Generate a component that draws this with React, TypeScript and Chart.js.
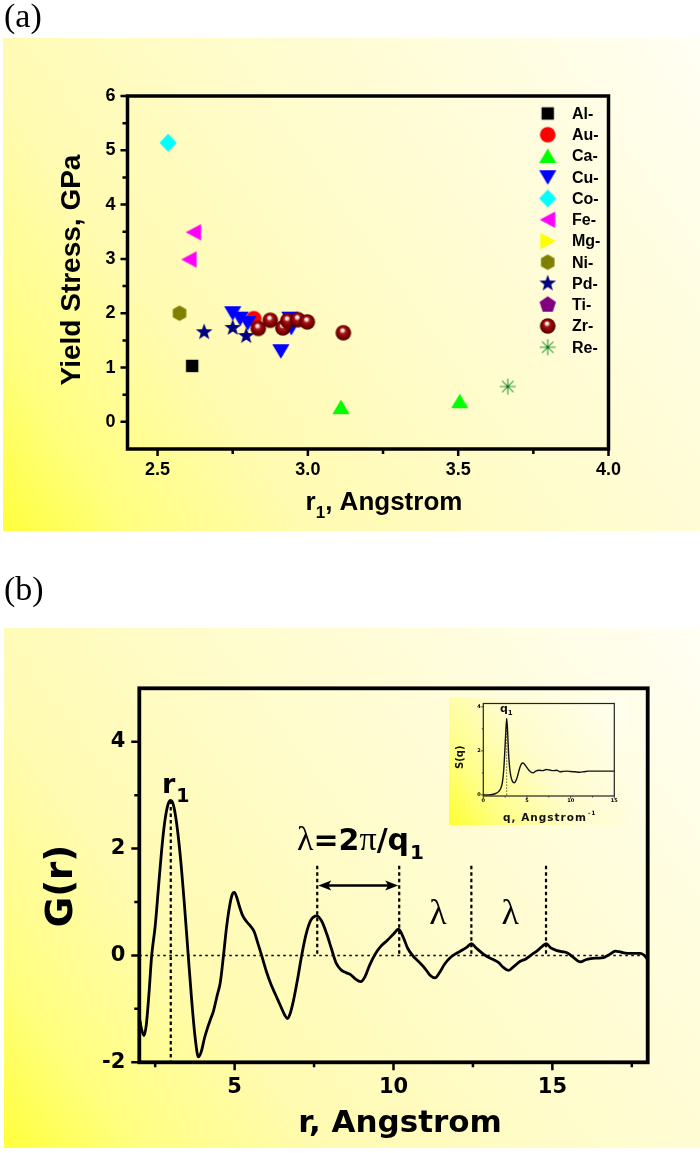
import React, { useEffect, useRef } from "react";
import { Chart, registerables } from "chart.js";

Chart.register(...registerables);

const SANS = '"Liberation Sans", Arial, Helvetica, sans-serif';
const DJ = '"DejaVu Sans", Verdana, sans-serif';
const SERIF = '"Liberation Serif", "Times New Roman", serif';

// ---------------- Panel (a): yield stress vs r1 ----------------
const seriesNames = ["Al-", "Au-", "Ca-", "Cu-", "Co-", "Fe-", "Mg-", "Ni-", "Pd-", "Ti-", "Zr-", "Re-"];
const alR = [2.615];
const alY = [1.03];
const auR = [2.82];
const auY = [1.9];
const caR = [3.11, 3.505];
const caY = [0.27, 0.38];
const cuR = [2.75, 2.775, 2.8, 2.91, 2.94, 2.945];
const cuY = [2.0, 1.9, 1.82, 1.3, 1.9, 1.73];
const coR = [2.535];
const coY = [5.14];
const feR = [2.62, 2.605];
const feY = [3.49, 2.99];
const mgR: number[] = [];
const mgY: number[] = [];
const niR = [2.573];
const niY = [2.0];
const pdR = [2.655, 2.75, 2.795];
const pdY = [1.65, 1.73, 1.58];
const tiR: number[] = [];
const tiY: number[] = [];
const zrR = [2.835, 2.875, 2.917, 2.933, 2.967, 2.998, 3.118];
const zrY = [1.72, 1.87, 1.73, 1.86, 1.88, 1.84, 1.64];
const reR = [3.665];
const reY = [0.65];
const xTicksA = [2.5, 3.0, 3.5, 4.0];
const xMinorA = [2.75, 3.25, 3.75];
const yTicksA = [0, 1, 2, 3, 4, 5, 6];
const yMinorA = [0.5, 1.5, 2.5, 3.5, 4.5, 5.5];

// ---------------- Panel (b): G(r) ----------------
const rVals = [
  2.0, 2.07, 2.15, 2.22, 2.3, 2.39, 2.5, 2.6, 2.7, 2.8,
  2.9, 2.99, 3.08, 3.18, 3.3, 3.42, 3.54, 3.65, 3.76, 3.86,
  3.95, 4.05, 4.15, 4.25, 4.33, 4.45, 4.55, 4.65, 4.75, 4.85,
  4.93, 4.99, 5.06, 5.15, 5.25, 5.38, 5.5, 5.62, 5.72, 5.85,
  6.0, 6.15, 6.3, 6.45, 6.58, 6.66, 6.74, 6.85, 6.98, 7.11,
  7.25, 7.4, 7.59, 7.75, 7.9, 8.05, 8.2, 8.35, 8.5, 8.65,
  8.8, 8.97, 9.1, 9.25, 9.45, 9.6, 9.8, 10.0, 10.16, 10.3,
  10.45, 10.63, 10.8, 11.0, 11.15, 11.31, 11.45, 11.6, 11.79, 11.95,
  12.1, 12.3, 12.45, 12.6, 12.84, 13.0, 13.15, 13.3, 13.45, 13.62,
  13.8, 13.99, 14.15, 14.36, 14.55, 14.7, 14.81, 14.95, 15.15, 15.3,
  15.46, 15.65, 15.88, 16.05, 16.2, 16.4, 16.61, 16.8, 16.98, 17.1,
  17.24, 17.5, 17.77, 17.9, 18.0,
];
const gVals = [
  -1.15, -1.38, -1.5, -1.3, -0.75, 0.0, 0.55, 1.25, 1.95, 2.5,
  2.82, 2.9, 2.8, 2.45, 1.8, 0.95, 0.0, -0.85, -1.55, -1.9,
  -1.8, -1.55, -1.35, -1.18, -1.05, -0.75, -0.5, 0.0, 0.55, 0.95,
  1.15, 1.18, 1.1, 0.92, 0.75, 0.63, 0.55, 0.44, 0.25, 0.0,
  -0.3, -0.55, -0.75, -0.95, -1.12, -1.18, -1.1, -0.85, -0.45, 0.0,
  0.4, 0.66, 0.74, 0.63, 0.4, 0.12, -0.15, -0.27, -0.32, -0.36,
  -0.44, -0.49, -0.4, -0.18, 0.05, 0.17, 0.28, 0.4, 0.49, 0.35,
  0.13, -0.02, -0.12, -0.25, -0.37, -0.42, -0.32, -0.17, -0.04, 0.03,
  0.08, 0.15, 0.22, 0.14, 0.02, -0.04, -0.08, -0.13, -0.22, -0.28,
  -0.2, -0.11, -0.07, 0.02, 0.1, 0.18, 0.22, 0.14, 0.09, 0.07,
  0.05, -0.03, -0.12, -0.08, -0.06, -0.05, -0.04, 0.02, 0.08, 0.07,
  0.05, 0.04, 0.04, 0.0, -0.08,
];
const xTicksB = [5, 10, 15];
const xMinorB = [2.5, 7.5, 12.5, 17.5];
const yTicksB = [-2, 0, 2, 4];
const yMinorB = [-1, 1, 3];
const r1Pos = 2.99;
const r1Peak = 2.9;
const lambdaMarks = [7.6, 10.18, 12.45, 14.8];
const dashTopG = 1.68;
const arrowG = 1.31;
const lambdaLabelR = [11.4, 13.67];
const lambdaLabelG = 0.6;

// ---------------- Inset: S(q) ----------------
const qVals = [
  0, 0.6, 1.15, 1.5, 1.75, 2.0, 2.2, 2.35, 2.48, 2.58,
  2.68, 2.78, 2.88, 3.0, 3.15, 3.35, 3.55, 3.75, 3.95, 4.15,
  4.35, 4.55, 4.8, 5.1, 5.4, 5.7, 6.0, 6.4, 6.8, 7.2,
  7.6, 8.0, 8.4, 8.8, 9.2, 9.6, 10.0, 10.5, 11.0, 11.5,
  12.0, 13.0, 14.0, 15.0,
];
const sVals = [
  0.0, 0.0, 0.03, 0.08, 0.15, 0.3, 0.6, 1.2, 2.1, 2.9,
  3.46, 2.9, 2.0, 1.3, 0.85, 0.6, 0.55, 0.65, 0.9, 1.2,
  1.4, 1.45, 1.35, 1.18, 1.05, 1.0, 1.08, 1.12, 1.1, 1.15,
  1.13, 1.1, 1.12, 1.05, 1.07, 1.08, 1.06, 1.05, 1.03, 1.05,
  1.08, 1.08, 1.08, 1.08,
];
const q1Pos = 2.68;
const q1Peak = 3.46;
const xTicksC = [0, 5, 10, 15];
const xMinorC = [2.5, 7.5, 12.5];
const yTicksC = [0, 2, 4];
const yMinorC = [1, 3];

// ---------------- styles ----------------
const markerKinds = ["square", "circle", "triUp", "triDown", "diamond", "triLeft", "triRight", "hexagon", "star", "pentagon", "sphere", "asterisk"];
const markerColors = ["#000000", "#ff0000", "#00ff00", "#0000ff", "#00ffff", "#ff00ff", "#ffff00", "#808000", "#000080", "#800080", "#800000", "#2e9b3e"];

function makeMarker(kind: string, color: string): HTMLCanvasElement {
  const c = document.createElement("canvas");
  c.width = 22;
  c.height = 22;
  const ctx = c.getContext("2d") as CanvasRenderingContext2D;
  const cx = 11, cy = 11;
  ctx.fillStyle = color;
  ctx.strokeStyle = color;
  const poly = (pts: number[][]) => {
    ctx.beginPath();
    pts.forEach((p, i) => (i === 0 ? ctx.moveTo(p[0], p[1]) : ctx.lineTo(p[0], p[1])));
    ctx.closePath();
    ctx.fill();
  };
  const regular = (n: number, R: number, start: number, inner?: number) => {
    const pts: number[][] = [];
    const count = inner ? n * 2 : n;
    for (let k = 0; k < count; k++) {
      const a = start + (k * 2 * Math.PI) / count;
      const rr = inner && k % 2 === 1 ? inner : R;
      pts.push([cx + rr * Math.cos(a), cy + rr * Math.sin(a)]);
    }
    poly(pts);
  };
  switch (kind) {
    case "square":
      ctx.fillRect(cx - 6.2, cy - 6.2, 12.4, 12.4);
      break;
    case "circle":
      ctx.beginPath();
      ctx.arc(cx, cy, 7.8, 0, Math.PI * 2);
      ctx.fill();
      break;
    case "triUp":
      poly([[cx, cy - 7.5], [cx + 8.6, cy + 7], [cx - 8.6, cy + 7]]);
      break;
    case "triDown":
      poly([[cx, cy + 7.5], [cx + 8.6, cy - 7], [cx - 8.6, cy - 7]]);
      break;
    case "triLeft":
      poly([[cx - 8, cy], [cx + 7.5, cy - 8.2], [cx + 7.5, cy + 8.2]]);
      break;
    case "triRight":
      poly([[cx + 8, cy], [cx - 7.5, cy - 8.2], [cx - 7.5, cy + 8.2]]);
      break;
    case "diamond":
      poly([[cx, cy - 9], [cx + 8.6, cy], [cx, cy + 9], [cx - 8.6, cy]]);
      break;
    case "hexagon":
      regular(6, 7.8, -Math.PI / 2);
      break;
    case "star":
      regular(5, 8.8, -Math.PI / 2, 3.6);
      break;
    case "pentagon":
      regular(5, 8.6, -Math.PI / 2);
      break;
    case "sphere": {
      const g = ctx.createRadialGradient(cx - 1, cy - 3, 0.3, cx, cy, 8.5);
      g.addColorStop(0, "#ffffff");
      g.addColorStop(0.16, "#f4d0d0");
      g.addColorStop(0.32, "#b01818");
      g.addColorStop(0.62, "#850000");
      g.addColorStop(1, "#3a0000");
      ctx.fillStyle = g;
      ctx.beginPath();
      ctx.arc(cx, cy, 7.8, 0, Math.PI * 2);
      ctx.fill();
      break;
    }
    case "asterisk": {
      ctx.lineWidth = 1.1;
      ctx.beginPath();
      for (let k = 0; k < 4; k++) {
        const a = (k * Math.PI) / 4;
        ctx.moveTo(cx - 8 * Math.cos(a), cy - 8 * Math.sin(a));
        ctx.lineTo(cx + 8 * Math.cos(a), cy + 8 * Math.sin(a));
      }
      ctx.stroke();
      ctx.fillStyle = "#1c5c24";
      ctx.beginPath();
      ctx.arc(cx, cy, 1.2, 0, Math.PI * 2);
      ctx.fill();
      break;
    }
  }
  return c;
}

function fillGradientBox(ctx: CanvasRenderingContext2D, x0: number, y0: number, w: number, h: number, stops: [number, string][]) {
  const g = ctx.createLinearGradient(x0, y0 + h, x0 + w, y0);
  stops.forEach(([o, c]) => g.addColorStop(o, c));
  ctx.fillStyle = g;
  ctx.fillRect(x0, y0, w, h);
}

const bgStops: [number, string][] = [
  [0, "#ffff3c"],
  [0.12, "#ffff7e"],
  [0.3, "#fffbb2"],
  [0.55, "#fffccd"],
  [0.8, "#fffde0"],
  [1, "#fffff4"],
];

type Part = { t: string; font: string; dy?: number; dx?: number };
function drawParts(ctx: CanvasRenderingContext2D, parts: Part[], x: number, y: number, align: "left" | "center") {
  ctx.textBaseline = "alphabetic";
  ctx.textAlign = "left";
  let w = 0;
  parts.forEach((p) => {
    ctx.font = p.font;
    w += ctx.measureText(p.t).width + (p.dx || 0);
  });
  let cx = align === "center" ? x - w / 2 : x;
  parts.forEach((p) => {
    ctx.font = p.font;
    cx += p.dx || 0;
    ctx.fillText(p.t, cx, y + (p.dy || 0));
    cx += ctx.measureText(p.t).width;
  });
}

function drawFrameTicks(chart: any, o: { xMaj: number[]; xMin: number[]; yMaj: number[]; yMin: number[]; maj: number; min: number; tickW: number; frameW: number; color: string }) {
  const { ctx, chartArea: ca, scales } = chart;
  const x = scales.x, y = scales.y;
  ctx.save();
  ctx.setLineDash([]);
  ctx.strokeStyle = o.color;
  ctx.lineWidth = o.tickW;
  ctx.beginPath();
  o.xMaj.forEach((v) => {
    const p = x.getPixelForValue(v);
    ctx.moveTo(p, ca.bottom);
    ctx.lineTo(p, ca.bottom + o.maj);
  });
  o.xMin.forEach((v) => {
    const p = x.getPixelForValue(v);
    ctx.moveTo(p, ca.bottom);
    ctx.lineTo(p, ca.bottom + o.min);
  });
  o.yMaj.forEach((v) => {
    const p = y.getPixelForValue(v);
    ctx.moveTo(ca.left, p);
    ctx.lineTo(ca.left - o.maj, p);
  });
  o.yMin.forEach((v) => {
    const p = y.getPixelForValue(v);
    ctx.moveTo(ca.left, p);
    ctx.lineTo(ca.left - o.min, p);
  });
  ctx.stroke();
  ctx.lineWidth = o.frameW;
  ctx.lineJoin = "miter";
  ctx.strokeRect(ca.left, ca.top, ca.right - ca.left, ca.bottom - ca.top);
  ctx.restore();
}

function axisCommon(min: number, max: number, ticks: number[], font: any, padding: number, size: number, isX: boolean, fmt: (v: number) => string) {
  return {
    type: "linear",
    min,
    max,
    grid: { display: false, drawTicks: false },
    border: { display: false },
    ticks: {
      autoSkip: false,
      maxRotation: 0,
      minRotation: 0,
      color: "#000",
      font,
      padding,
      callback: (v: number) => fmt(v),
    },
    afterBuildTicks: (s: any) => {
      s.ticks = ticks.map((v) => ({ value: v }));
    },
    afterFit: (s: any) => {
      if (isX) s.height = size;
      else s.width = size;
    },
  };
}

function buildChartA(canvas: HTMLCanvasElement, markers: HTMLCanvasElement[]) {
  const rs = [alR, auR, caR, cuR, coR, feR, mgR, niR, pdR, tiR, zrR, reR];
  const ys = [alY, auY, caY, cuY, coY, feY, mgY, niY, pdY, tiY, zrY, reY];
  const datasets = seriesNames.map((name, i) => ({
    label: name,
    data: rs[i].map((x, k) => ({ x, y: ys[i][k] })),
    pointStyle: markers[i],
    pointRadius: 8,
    pointHoverRadius: 8,
    showLine: false,
    order: seriesNames.length - i,
  }));
  const plugin = {
    id: "panelA",
    beforeDraw(chart: any) {
      const ctx = chart.ctx;
      ctx.save();
      fillGradientBox(ctx, 3, 38, 697, 493, bgStops);
      ctx.fillStyle = "#000";
      ctx.font = `34px ${SERIF}`;
      ctx.textBaseline = "alphabetic";
      ctx.textAlign = "left";
      ctx.fillText("(a)", 4, 27);
      ctx.restore();
    },
    afterDraw(chart: any) {
      const ctx = chart.ctx;
      drawFrameTicks(chart, { xMaj: xTicksA, xMin: xMinorA, yMaj: yTicksA, yMin: yMinorA, maj: 7, min: 5, tickW: 2.5, frameW: 3.5, color: "#000" });
      ctx.save();
      ctx.fillStyle = "#000";
      // legend
      seriesNames.forEach((name, i) => {
        const yy = 113.5 + i * 21.25;
        const m = markers[i];
        ctx.drawImage(m, 547.7 - m.width / 2, yy - m.height / 2);
        ctx.font = `bold 16px ${SANS}`;
        ctx.textBaseline = "middle";
        ctx.textAlign = "left";
        ctx.fillText(name, 572, yy + 1);
      });
      // y title
      ctx.save();
      ctx.translate(72, 270);
      ctx.rotate(-Math.PI / 2);
      ctx.font = `bold 28px ${SANS}`;
      ctx.textAlign = "center";
      ctx.textBaseline = "middle";
      ctx.fillText("Yield Stress, GPa", 0, 0);
      ctx.restore();
      // x title
      drawParts(
        ctx,
        [
          { t: "r", font: `bold 26px ${SANS}` },
          { t: "1", font: `bold 17px ${SANS}`, dy: 8 },
          { t: ", Angstrom", font: `bold 26px ${SANS}` },
        ],
        384,
        510,
        "center"
      );
      ctx.restore();
    },
  };
  const tickFont = { family: SANS, size: 18, weight: "bold" };
  return new Chart(canvas, {
    type: "scatter",
    data: { datasets } as any,
    options: {
      responsive: false,
      animation: false,
      devicePixelRatio: 1,
      layout: { padding: { top: 96, right: 91.5, left: 0, bottom: 0 } },
      plugins: { legend: { display: false }, tooltip: { enabled: false } },
      scales: {
        x: axisCommon(2.4, 4.0, xTicksA, tickFont, 10, 111, true, (v) => v.toFixed(1)),
        y: axisCommon(-0.5, 6, yTicksA, tickFont, 12, 127.5, false, (v) => String(v)),
      } as any,
    },
    plugins: [plugin],
  } as any);
}

function buildChartB(canvas: HTMLCanvasElement) {
  const plugin = {
    id: "panelB",
    beforeDraw(chart: any) {
      const ctx = chart.ctx;
      ctx.save();
      fillGradientBox(ctx, 4, 68, 696, 520, bgStops);
      ctx.fillStyle = "#000";
      ctx.font = `34px ${SERIF}`;
      ctx.textBaseline = "alphabetic";
      ctx.textAlign = "left";
      ctx.fillText("(b)", 4, 39.5);
      ctx.restore();
    },
    beforeDatasetsDraw(chart: any) {
      const { ctx, chartArea: ca, scales } = chart;
      const x = scales.x, y = scales.y;
      ctx.save();
      ctx.strokeStyle = "#000";
      // zero line
      ctx.setLineDash([2.5, 3.5]);
      ctx.lineWidth = 1.6;
      ctx.beginPath();
      ctx.moveTo(ca.left, y.getPixelForValue(0));
      ctx.lineTo(ca.right, y.getPixelForValue(0));
      ctx.stroke();
      // dashed verticals
      ctx.setLineDash([3.5, 3]);
      ctx.lineWidth = 2.2;
      ctx.beginPath();
      const px1 = x.getPixelForValue(r1Pos);
      ctx.moveTo(px1, y.getPixelForValue(r1Peak));
      ctx.lineTo(px1, ca.bottom);
      lambdaMarks.forEach((r) => {
        const p = x.getPixelForValue(r);
        ctx.moveTo(p, y.getPixelForValue(dashTopG));
        ctx.lineTo(p, y.getPixelForValue(0));
      });
      ctx.stroke();
      ctx.restore();
    },
    afterDraw(chart: any) {
      const { ctx, scales } = chart;
      const x = scales.x, y = scales.y;
      drawFrameTicks(chart, { xMaj: xTicksB, xMin: xMinorB, yMaj: yTicksB, yMin: yMinorB, maj: 8, min: 5, tickW: 2.5, frameW: 3.8, color: "#000" });
      ctx.save();
      ctx.fillStyle = "#000";
      ctx.strokeStyle = "#000";
      // arrow
      const a1 = x.getPixelForValue(lambdaMarks[0]);
      const a2 = x.getPixelForValue(lambdaMarks[1]);
      const ay = y.getPixelForValue(arrowG);
      ctx.lineWidth = 2.6;
      ctx.setLineDash([]);
      ctx.beginPath();
      ctx.moveTo(a1 + 8, ay);
      ctx.lineTo(a2 - 8, ay);
      ctx.stroke();
      const head = (tip: number, dir: number) => {
        ctx.beginPath();
        ctx.moveTo(tip, ay);
        ctx.lineTo(tip + dir * 13, ay - 5);
        ctx.lineTo(tip + dir * 10, ay);
        ctx.lineTo(tip + dir * 13, ay + 5);
        ctx.closePath();
        ctx.fill();
      };
      head(a1 + 1, 1);
      head(a2 - 1, -1);
      // r1 label
      drawParts(
        ctx,
        [
          { t: "r", font: `bold 27px ${DJ}` },
          { t: "1", font: `bold 19px ${DJ}`, dy: 8.5, dx: 1 },
        ],
        162,
        233.3,
        "left"
      );
      // lambda = 2 pi / q1
      drawParts(
        ctx,
        [
          { t: "\u03bb", font: `34px ${SERIF}` },
          { t: "=2", font: `bold 30px ${DJ}` },
          { t: "\u03c0", font: `34px ${SERIF}` },
          { t: "/q", font: `bold 30px ${DJ}` },
          { t: "1", font: `bold 20px ${DJ}`, dy: 9, dx: 1 },
        ],
        297,
        290,
        "left"
      );
      // single lambdas
      ctx.font = `36px ${SERIF}`;
      ctx.textAlign = "center";
      ctx.textBaseline = "alphabetic";
      lambdaLabelR.forEach((r) => {
        ctx.fillText("\u03bb", x.getPixelForValue(r), y.getPixelForValue(lambdaLabelG) + 1);
      });
      // axis titles
      ctx.save();
      ctx.translate(62.5, 326);
      ctx.rotate(-Math.PI / 2);
      ctx.font = `bold 37px ${DJ}`;
      ctx.textAlign = "center";
      ctx.textBaseline = "middle";
      ctx.fillText("G(r)", 0, 0);
      ctx.restore();
      ctx.font = `bold 31px ${DJ}`;
      ctx.textAlign = "center";
      ctx.textBaseline = "alphabetic";
      ctx.fillText("r, Angstrom", 400, 572);
      ctx.restore();
    },
  };
  const tickFont = { family: DJ, size: 21, weight: "bold" };
  return new Chart(canvas, {
    type: "scatter",
    data: {
      datasets: [
        {
          data: rVals.map((r, i) => ({ x: r, y: gVals[i] })),
          showLine: true,
          borderColor: "#000",
          borderWidth: 2.8,
          pointRadius: 0,
          cubicInterpolationMode: "monotone",
          fill: false,
        },
      ],
    } as any,
    options: {
      responsive: false,
      animation: false,
      devicePixelRatio: 1,
      layout: { padding: { top: 128.3, right: 52.3, left: 0, bottom: 0 } },
      plugins: { legend: { display: false }, tooltip: { enabled: false } },
      scales: {
        x: axisCommon(2, 18, xTicksB, tickFont, 12.6, 90.7, true, (v) => String(v)),
        y: axisCommon(-2, 5, yTicksB, tickFont, 14, 139.3, false, (v) => String(v)),
      } as any,
    },
    plugins: [plugin],
  } as any);
}

function buildChartC(canvas: HTMLCanvasElement) {
  const insetStops: [number, string][] = [
    [0, "#ffff30"],
    [0.22, "#ffff88"],
    [0.5, "#fffccc"],
    [1, "#fffff2"],
  ];
  const plugin = {
    id: "inset",
    beforeDraw(chart: any) {
      const ctx = chart.ctx;
      ctx.save();
      fillGradientBox(ctx, 0, 0, 178, 127, insetStops);
      ctx.restore();
    },
    beforeDatasetsDraw(chart: any) {
      const { ctx, scales } = chart;
      const x = scales.x, y = scales.y;
      ctx.save();
      ctx.strokeStyle = "#333";
      ctx.lineWidth = 0.8;
      ctx.setLineDash([1.5, 1.5]);
      ctx.beginPath();
      const p = x.getPixelForValue(q1Pos);
      ctx.moveTo(p, y.getPixelForValue(0));
      ctx.lineTo(p, y.getPixelForValue(q1Peak));
      ctx.stroke();
      ctx.restore();
    },
    afterDraw(chart: any) {
      const ctx = chart.ctx;
      drawFrameTicks(chart, { xMaj: xTicksC, xMin: xMinorC, yMaj: yTicksC, yMin: yMinorC, maj: 2.5, min: 1.5, tickW: 0.8, frameW: 1.2, color: "#222" });
      ctx.save();
      ctx.fillStyle = "#111";
      drawParts(
        ctx,
        [
          { t: "q", font: `bold 11px ${DJ}` },
          { t: "1", font: `bold 7px ${DJ}`, dy: 3 },
        ],
        51,
        14,
        "left"
      );
      ctx.save();
      ctx.translate(11.5, 59.3);
      ctx.rotate(-Math.PI / 2);
      ctx.font = `bold 10px ${DJ}`;
      ctx.textAlign = "center";
      ctx.textBaseline = "middle";
      ctx.fillText("S(q)", 0, 0);
      ctx.restore();
      (ctx as any).letterSpacing = "1px";
      drawParts(
        ctx,
        [
          { t: "q, Angstrom", font: `bold 10.5px ${DJ}` },
          { t: "-1", font: `bold 6px ${DJ}`, dy: -6, dx: 1 },
        ],
        54,
        122.7,
        "left"
      );
      (ctx as any).letterSpacing = "0px";
      ctx.restore();
    },
  };
  const tickFont = { family: DJ, size: 5, weight: "bold" };
  return new Chart(canvas, {
    type: "scatter",
    data: {
      datasets: [
        {
          data: qVals.map((q, i) => ({ x: q, y: sVals[i] })),
          showLine: true,
          borderColor: "#111",
          borderWidth: 1.4,
          pointRadius: 0,
          cubicInterpolationMode: "monotone",
          fill: false,
        },
      ],
    } as any,
    options: {
      responsive: false,
      animation: false,
      devicePixelRatio: 1,
      layout: { padding: { top: 4.3, right: 12.7, left: 0, bottom: 0 } },
      plugins: { legend: { display: false }, tooltip: { enabled: false } },
      scales: {
        x: axisCommon(0, 15, xTicksC, tickFont, 2, 29, true, (v) => String(v)),
        y: axisCommon(-0.05, 4.15, yTicksC, tickFont, 2.5, 34.3, false, (v) => String(v)),
      } as any,
    },
    plugins: [plugin],
  } as any);
}

export default function App() {
  const refA = useRef<HTMLCanvasElement>(null);
  const refB = useRef<HTMLCanvasElement>(null);
  const refC = useRef<HTMLCanvasElement>(null);

  useEffect(() => {
    const markers = markerKinds.map((k, i) => makeMarker(k, markerColors[i]));
    const a = buildChartA(refA.current as HTMLCanvasElement, markers);
    const b = buildChartB(refB.current as HTMLCanvasElement);
    const c = buildChartC(refC.current as HTMLCanvasElement);
    return () => {
      a.destroy();
      b.destroy();
      c.destroy();
    };
  }, []);

  return (
    <div style={{ position: "absolute", left: 0, top: 0, width: 700, height: 1153, background: "#ffffff", overflow: "hidden" }}>
      <canvas ref={refA} width={700} height={560} style={{ position: "absolute", left: 0, top: 0, width: 700, height: 560 }} />
      <canvas ref={refB} width={700} height={593} style={{ position: "absolute", left: 0, top: 560, width: 700, height: 593 }} />
      <canvas ref={refC} width={178} height={127} style={{ position: "absolute", left: 449, top: 698, width: 178, height: 127 }} />
    </div>
  );
}
